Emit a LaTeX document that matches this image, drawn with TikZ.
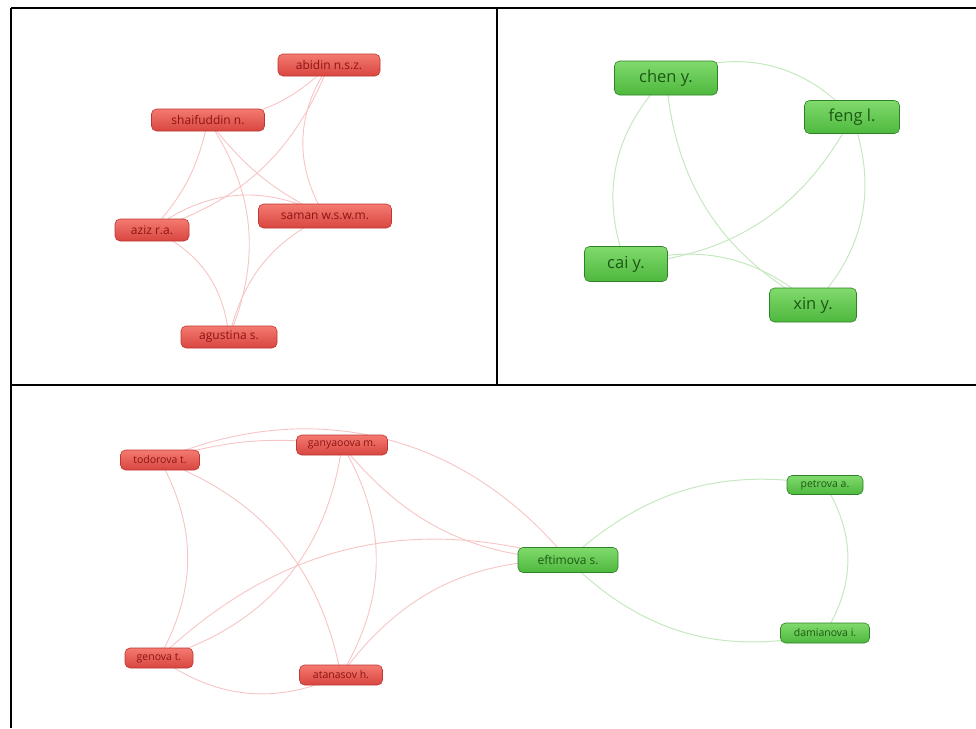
\documentclass[tikz,border=0pt]{standalone}
\usepackage{fontspec}
\setmainfont{Open Sans}
\usetikzlibrary{backgrounds}
\definecolor{rtop}{RGB}{244,122,112}
\definecolor{rbot}{RGB}{216,70,64}
\definecolor{rborder}{RGB}{190,55,50}
\definecolor{rtext}{RGB}{140,20,18}
\definecolor{redgec}{RGB}{247,196,196}
\definecolor{gtop}{RGB}{128,218,108}
\definecolor{gbot}{RGB}{78,184,62}
\definecolor{gborder}{RGB}{45,130,38}
\definecolor{gtext}{RGB}{28,88,20}
\definecolor{gedgec}{RGB}{198,232,192}
\tikzset{
  rnode/.style={rounded corners=5pt, draw=rborder, top color=rtop, bottom color=rbot, text=rtext, inner sep=0pt, line width=0.6pt},
  gnode/.style={rounded corners=5pt, draw=gborder, top color=gtop, bottom color=gbot, text=gtext, inner sep=0pt, line width=0.6pt},
  redge/.style={draw=redgec, line width=0.9pt},
  gedge/.style={draw=gedgec, line width=1pt},
  frame/.style={draw=black, line width=1.3pt},
  fa/.style={font=\fontsize{12}{12}\selectfont},
  fb/.style={font=\fontsize{16.5}{16.5}\selectfont},
  fc/.style={font=\fontsize{10.5}{10.5}\selectfont}
}
\begin{document}
\begin{tikzpicture}[x=1pt,y=1pt]
\useasboundingbox (0,0) rectangle (976,-728);
% frame lines
\coordinate (tl) at (11,-8);
\coordinate (tr) at (976,-8);
\coordinate (bl) at (11,-728);
\coordinate (vt) at (497,-8);
\coordinate (vb) at (497,-385);
\coordinate (hl) at (11,-385);
\coordinate (hr) at (976,-385);
\draw[frame] (tl) -- (tr);
\draw[frame] (tl) -- (bl);
\draw[frame] (vt) -- (vb);
\draw[frame] (hl) -- (hr);

% panel 1
\node[rnode, fa, minimum width=102pt, minimum height=22pt] (abidin) at (329,-65) {abidin n.s.z.};
\node[rnode, fa, minimum width=113pt, minimum height=22pt] (shaif) at (208,-120) {shaifuddin n.};
\node[rnode, fa, minimum width=74pt, minimum height=22pt] (aziz) at (152,-230) {aziz r.a.};
\node[rnode, fa, minimum width=133pt, minimum height=24pt] (saman) at (325,-216) {saman w.s.w.m.};
\node[rnode, fa, minimum width=96pt, minimum height=22pt] (agust) at (229,-337) {agustina s.};

% panel 2
\node[gnode, fb, minimum width=103pt, minimum height=34pt] (chen) at (666,-78) {chen y.};
\node[gnode, fb, minimum width=95pt, minimum height=33pt] (feng) at (852,-117) {feng l.};
\node[gnode, fb, minimum width=83pt, minimum height=35pt] (cai) at (626,-264) {cai y.};
\node[gnode, fb, minimum width=87pt, minimum height=34pt] (xin) at (813,-305) {xin y.};

% panel 3
\node[rnode, fc, minimum width=79pt, minimum height=20pt] (todo) at (160,-460) {todorova t.};
\node[rnode, fc, minimum width=91pt, minimum height=20pt] (gany) at (342,-445) {ganyaoova m.};
\node[rnode, fc, minimum width=68pt, minimum height=20pt] (genova) at (159,-658) {genova t.};
\node[rnode, fc, minimum width=83pt, minimum height=20pt] (atan) at (341,-675) {atanasov h.};
\node[gnode, minimum width=100pt, minimum height=25pt, font=\fontsize{12}{12}\selectfont] (eft) at (568,-560) {eftimova s.};
\node[gnode, fc, minimum width=76pt, minimum height=19pt] (petr) at (825,-485) {petrova a.};
\node[gnode, fc, minimum width=89pt, minimum height=20pt] (dam) at (825,-633) {damianova i.};

\begin{scope}[on background layer]
% panel 1 edges
\draw[redge] (shaif.center) to[bend right=20] (abidin.center);
\draw[redge] (aziz.center) to[bend right=25] (abidin.center);
\draw[redge] (abidin.center) to[bend right=33] (saman.center);
\draw[redge] (shaif.center) to[bend left=15] (aziz.center);
\draw[redge] (shaif.center) to[bend right=13] (saman.center);
\draw[redge] (shaif.center) to[bend left=28] (agust.center);
\draw[redge] (aziz.center) to[bend left=33] (saman.center);
\draw[redge] (aziz.center) to[bend left=30] (agust.center);
\draw[redge] (saman.center) to[bend right=25] (agust.center);
% panel 2 edges
\draw[gedge] (chen.center) to[bend left=37] (feng.center);
\draw[gedge] (chen.center) to[bend right=33] (cai.center);
\draw[gedge] (chen.center) to[bend right=28] (xin.center);
\draw[gedge] (feng.center) to[bend left=29] (cai.center);
\draw[gedge] (feng.center) to[bend left=32] (xin.center);
\draw[gedge] (cai.center) to[bend left=29] (xin.center);
% panel 3 edges
\draw[redge] (todo.center) to[bend left=37] (eft.center);
\draw[redge] (todo.center) to[bend left=12] (gany.center);
\draw[redge] (gany.center) to[bend right=24] (eft.center);
\draw[redge] (todo.center) to[bend left=29] (genova.center);
\draw[redge] (todo.center) to[bend left=29] (atan.center);
\draw[redge] (gany.center) to[bend left=33] (genova.center);
\draw[redge] (gany.center) to[bend left=31] (atan.center);
\draw[redge] (genova.center) to[bend left=30] (eft.center);
\draw[redge] (genova.center) to[bend right=30] (atan.center);
\draw[redge] (atan.center) to[bend left=27] (eft.center);
\draw[gedge] (eft.center) to[bend left=26] (petr.center);
\draw[gedge] (eft.center) to[bend right=29] (dam.center);
\draw[gedge] (petr.center) to[bend left=32] (dam.center);
\end{scope}
\end{tikzpicture}
\end{document}
